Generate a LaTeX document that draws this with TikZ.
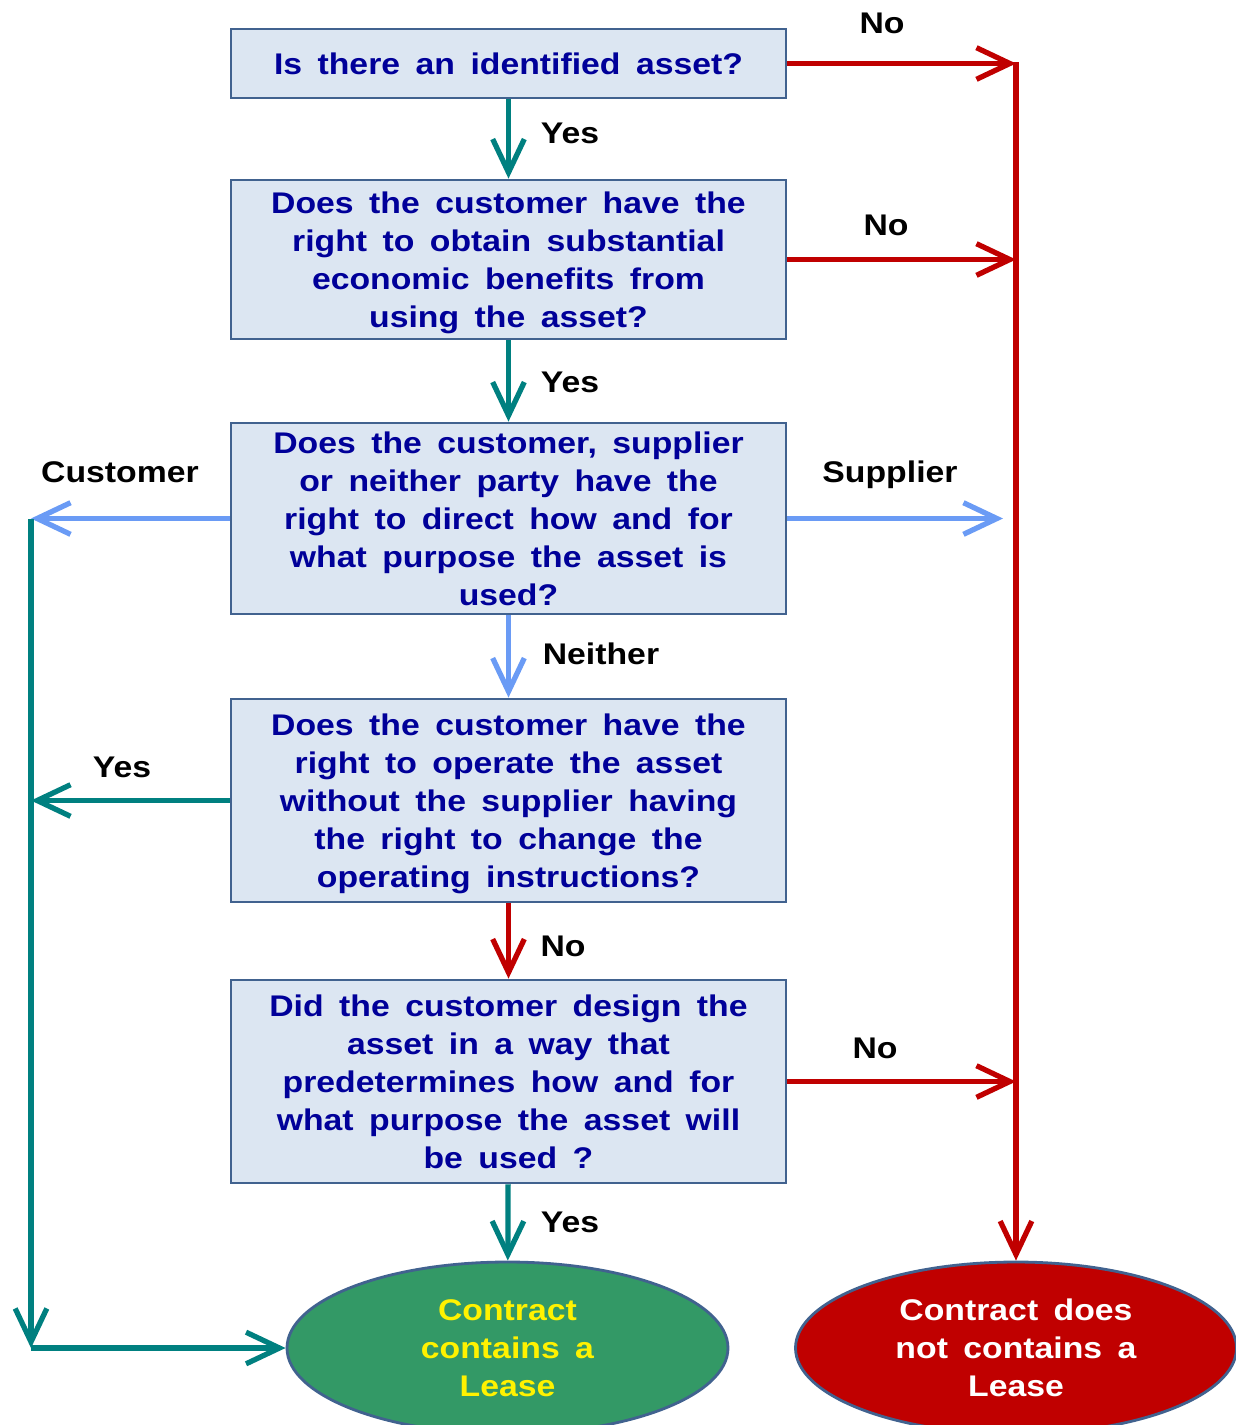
\documentclass[tikz,border=0pt]{standalone}
\usepackage{fontspec}
\setmainfont{Liberation Sans}[FakeStretch=1.13,WordSpace=1.65]
\usetikzlibrary{arrows.meta,shapes.geometric}
\definecolor{boxfill}{HTML}{DCE6F2}
\definecolor{boxline}{HTML}{41628F}
\definecolor{asknavy}{HTML}{000099}
\definecolor{yesteal}{HTML}{008080}
\definecolor{nored}{HTML}{C00000}
\definecolor{sideblue}{HTML}{6A9BF5}
\definecolor{leasegreen}{HTML}{339966}
\newcommand{\qfont}{\bfseries\fontsize{8.5}{10.8}\selectfont}
\begin{document}
\begin{tikzpicture}[question/.style={draw=boxline,line width=0.8pt,fill=boxfill,text depth=0pt,
                    minimum width=5.55cm,align=center,text=asknavy,font=\qfont,inner sep=0pt},
                    answer/.style={ellipse,draw=boxline,line width=0.8pt,minimum width=4.41cm,
                    minimum height=1.72cm,align=center,font=\qfont,inner sep=0pt},
                    lbl/.style={font=\qfont},
                    tip/.style={-{Straight Barb[length=9.5pt,width=9pt]}},
                    yesarrow/.style={tip,draw=yesteal,line width=1.5pt},
                    noarrow/.style={tip,draw=nored,line width=1.5pt},
                    sidearrow/.style={tip,draw=sideblue,line width=1.5pt}]
\useasboundingbox (0,0) rectangle (12.36,-14.25);
% questions
\node[question,minimum height=0.69cm] (q1) at (5.085,-0.635) {Is there an identified asset?};
\node[question,minimum height=1.59cm] (q2) at (5.085,-2.595) {Does the customer have the\\right to obtain substantial\\economic benefits from\\using the asset?};
\node[question,minimum height=1.91cm] (q3) at (5.085,-5.185) {Does the customer, supplier\\or neither party have the\\right to direct how and for\\what purpose the asset is\\used?};
\node[question,minimum height=2.03cm] (q4) at (5.085,-8.005) {Does the customer have the\\right to operate the asset\\without the supplier having\\the right to change the\\operating instructions?};
\node[question,minimum height=2.03cm] (q5) at (5.085,-10.815) {Did the customer design the\\asset in a way that\\predetermines how and for\\what purpose the asset will\\be used ?};
% results
\node[answer,fill=leasegreen,text=yellow] (lease) at (5.075,-13.48) {Contract\\contains a\\Lease};
\node[answer,fill=nored,text=white] (nolease) at (10.16,-13.48) {Contract does\\not contains a\\Lease};
% side lines
\coordinate (righttop) at (10.16,-0.62);
\coordinate (lefttop) at (0.31,-5.19);
\coordinate (leftbot) at (0.31,-13.48);
\draw[yesarrow] (q1) -- (q2);
\draw[yesarrow] (q2) -- (q3);
\draw[sidearrow] (q3) -- (q4);
\draw[noarrow] (q4) -- (q5);
\draw[yesarrow] (q5) -- (lease);
\draw[noarrow] (righttop) -- (nolease);
\draw[noarrow] (q1.east) -- (q1.east -| righttop);
\draw[noarrow] (q2.east) -- (q2.east -| righttop);
\draw[noarrow] (q5.east) -- (q5.east -| righttop);
\draw[sidearrow,shorten >=0.13cm] (q3.east) -- (q3.east -| righttop);
\draw[sidearrow] (q3.west) -- (q3.west -| lefttop);
\draw[yesarrow] (q4.west) -- (q4.west -| lefttop);
\draw[yesarrow] (lefttop) -- (leftbot);
\draw[yesarrow] (leftbot) -- (lease.west);
% labels
\node[lbl] (l1) at (8.82,-0.23) {No};
\node[lbl] (l2) at (5.70,-1.33) {Yes};
\node[lbl] (l3) at (8.86,-2.25) {No};
\node[lbl] (l4) at (5.70,-3.82) {Yes};
\node[lbl] (l5) at (1.20,-4.72) {Customer};
\node[lbl] (l6) at (8.90,-4.75) {Supplier};
\node[lbl] (l7) at (6.01,-6.54) {Neither};
\node[lbl] (l8) at (1.22,-7.67) {Yes};
\node[lbl] (l9) at (5.63,-9.46) {No};
\node[lbl] (l10) at (8.75,-10.48) {No};
\node[lbl] (l11) at (5.70,-12.22) {Yes};
\end{tikzpicture}
\end{document}
